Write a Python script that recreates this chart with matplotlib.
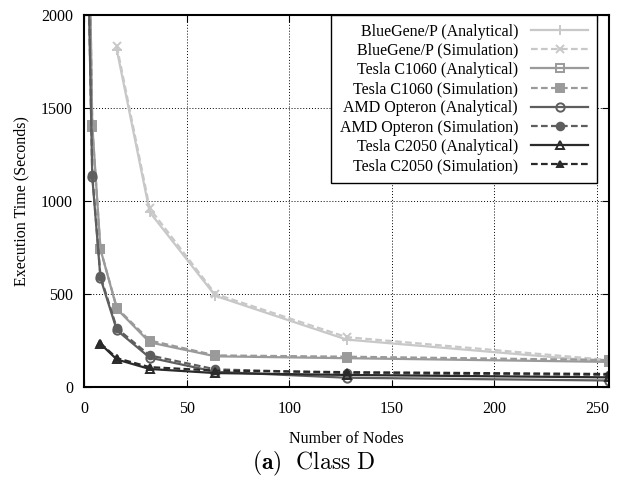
import matplotlib
matplotlib.use('Agg')
import matplotlib.pyplot as plt

plt.rcParams['font.family'] = 'Liberation Serif'
plt.rcParams['mathtext.fontset'] = 'cm'

# data
nodes = [2, 4, 8, 16, 32, 64, 128, 256]
nodes_bg = [16, 32, 64, 128, 256]
nodes_c2050 = [8, 16, 32, 64, 128, 256]

bg_ana = [1810, 940, 490, 255, 135]
bg_sim = [1830, 960, 500, 268, 145]
c1060_ana = [2830, 1410, 740, 420, 240, 165, 155, 135]
c1060_sim = [2800, 1395, 740, 425, 250, 170, 163, 145]
amd_ana = [2280, 1130, 585, 305, 158, 82, 50, 35]
amd_sim = [2300, 1140, 595, 315, 170, 95, 75, 65]
c2050_ana = [232, 148, 97, 75, 65, 52]
c2050_sim = [235, 155, 107, 88, 80, 70]

series = [
    ('BlueGene/P (Analytical)', nodes_bg, bg_ana, '#c8c8c8', '-', '+', 'none', 7),
    ('BlueGene/P (Simulation)', nodes_bg, bg_sim, '#c8c8c8', '--', 'x', 'none', 6),
    ('Tesla C1060 (Analytical)', nodes, c1060_ana, '#9a9a9a', '-', 's', 'none', 6),
    ('Tesla C1060 (Simulation)', nodes, c1060_sim, '#9a9a9a', '--', 's', 'fill', 6),
    ('AMD Opteron (Analytical)', nodes, amd_ana, '#5e5e5e', '-', 'o', 'none', 6),
    ('AMD Opteron (Simulation)', nodes, amd_sim, '#5e5e5e', '--', 'o', 'fill', 5.5),
    ('Tesla C2050 (Analytical)', nodes_c2050, c2050_ana, '#2a2a2a', '-', '^', 'none', 6),
    ('Tesla C2050 (Simulation)', nodes_c2050, c2050_sim, '#2a2a2a', '--', '^', 'fill', 5),
]

fig = plt.figure(figsize=(6.32, 4.79), dpi=100)
ax = fig.add_axes([0.133, 0.192, 0.831, 0.777])

for label, xs, ys, col, ls, mk, fill, ms in series:
    mfc = col if fill == 'fill' else 'none'
    ax.plot(xs, ys, color=col, linestyle=ls, marker=mk, markersize=ms,
            markerfacecolor=mfc, markeredgecolor=col, markeredgewidth=1.4,
            linewidth=1.6, label=label, dashes=(3, 1.5) if ls == '--' else (None, None))

ax.set_xlim(0, 256)
ax.set_ylim(0, 2000)
ax.set_xticks([0, 50, 100, 150, 200, 250])
ax.set_yticks([0, 500, 1000, 1500, 2000])
ax.grid(True, color='black', linestyle=(0, (1, 2)), linewidth=0.7)
ax.tick_params(direction='in', top=True, right=True, length=5, labelsize=11.5)
ax.tick_params(axis='x', pad=10)
ax.tick_params(axis='y', pad=8)
for sp in ax.spines.values():
    sp.set_linewidth(1.5)

ax.set_xlabel('Number of Nodes', fontsize=11.5, labelpad=10)
ax.set_ylabel('Execution Time (Seconds)', fontsize=11.5, labelpad=8)

leg = ax.legend(loc='upper right', markerfirst=False, fontsize=11.5, frameon=True,
                fancybox=False, framealpha=1, edgecolor='black', borderpad=0.55,
                labelspacing=0.2, handlelength=3.6, handletextpad=0.8,
                borderaxespad=0.0, bbox_to_anchor=(0.977, 1.0))
leg.get_frame().set_linewidth(1.0)

fig.text(0.496, 0.02, r'$\mathbf{(a)}\ \ \mathrm{Class\ D}$', ha='center',
         va='baseline', fontsize=17)

fig.savefig('out.png', dpi=100)
